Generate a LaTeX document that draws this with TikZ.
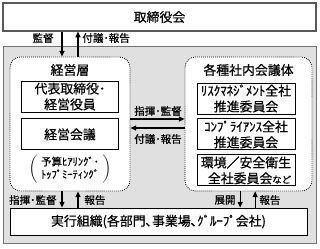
\documentclass[tikz,border=0pt]{standalone}
\usepackage{fontspec}
\setmainfont{Noto Sans CJK JP}[FakeBold=0.6, UprightFont=*, UprightFeatures={FakeBold=0.6}]
\usetikzlibrary{arrows.meta, positioning}
\tikzstyle{board}  = [rectangle, minimum width=9.39cm, minimum height=0.84cm,
                      text centered, draw=black!65, line width=1pt, fill=white, font=\fontsize{11}{12}\selectfont]
\tikzstyle{base}   = [rectangle, minimum width=9.39cm, minimum height=5.91cm,
                      draw=black!55, line width=0.6pt, fill=black!12]
\tikzstyle{group}  = [rectangle, rounded corners=9pt, minimum height=4.02cm,
                      draw=black, densely dotted, line width=0.7pt, fill=white]
\tikzstyle{unit}   = [rectangle, minimum width=2.9cm, minimum height=0.93cm, inner sep=1pt,
                      align=center, draw=black, line width=0.8pt, fill=white, font=\fontsize{11}{13.5}\selectfont]
\tikzstyle{head}   = [font=\fontsize{11}{12}\selectfont]
\tikzstyle{lbl}    = [font=\fontsize{9}{10}\selectfont, inner sep=1pt]
\tikzstyle{arrow}  = [-{Triangle[length=1.7mm, width=1.5mm]}, line width=0.9pt]

\begin{document}
\begin{tikzpicture}[x=0.03cm, y=-0.03cm]
    \useasboundingbox (0,0) rectangle (320,248);
    \node (base) [base] at (159.5,144.5) {};
    \node (top) [board] at (159.5,17) {取締役会};
    \node (mgmt) [group, minimum width=3.6cm] at (70,124) {};
    \node (meet) [group, minimum width=3.81cm] at (248.5,124) {};
    \node (mgmthead) [head] at (70,70) {経営層};
    \node (meethead) [head] at (248.5,70) {各種社内会議体};

    \node (ceo) [unit] at (70,96.5) {代表取締役･\\経営役員};
    \node (council) [unit, below=0.18cm of ceo] {経営会議};
    \node (hearing) [below=0.02cm of council, font=\fontsize{9}{10.5}\selectfont]
        {$\left(\hspace{3pt}\begin{tabular}{@{}c@{}}予算ﾋｱﾘﾝｸﾞ･\\ﾄｯﾌﾟﾐｰﾃｨﾝｸﾞ\end{tabular}\hspace{3pt}\right)$};

    \node (risk) [unit, minimum width=2.94cm] at (246,98.5) {ﾘｽｸﾏﾈｼﾞﾒﾝﾄ全社\\推進委員会};
    \node (comp) [unit, minimum width=2.94cm, below=0.12cm of risk] {ｺﾝﾌﾟﾗｲｱﾝｽ全社\\推進委員会};
    \node (env) [unit, minimum width=2.94cm, below=0.12cm of comp, align=right]
        {環境／安全衛生\\全社委員会{\fontsize{8}{9}\selectfont など}};

    \node (ops) [board, draw=black, line width=0.8pt, minimum width=8.91cm, minimum height=0.81cm] at (158.5,221.5)
        {実行組織(各部門､事業場､ｸﾞﾙｰﾌﾟ会社)};

    \draw[arrow] ([xshift=-0.24cm]mgmt.north |- top.south) -- ([xshift=-0.24cm]mgmt.north);
    \draw[arrow] ([xshift=0.24cm]mgmt.north) -- ([xshift=0.24cm]mgmt.north |- top.south);
    \draw[arrow] ([yshift=0.15cm]mgmt.east) -- ([yshift=0.15cm]meet.west);
    \draw[arrow] ([yshift=-0.12cm]meet.west) -- ([yshift=-0.12cm]mgmt.east);
    \draw[arrow] ([xshift=-0.24cm]mgmt.south) -- ([xshift=-0.24cm]mgmt.south |- ops.north);
    \draw[arrow] ([xshift=0.24cm]mgmt.south |- ops.north) -- ([xshift=0.24cm]mgmt.south);
    \draw[arrow] ([xshift=-0.25cm]meet.south) -- ([xshift=-0.25cm]meet.south |- ops.north);
    \draw[arrow] ([xshift=0.2cm]meet.south |- ops.north) -- ([xshift=0.2cm]meet.south);

    \node (l1) [lbl, anchor=east] at (55,38) {監督};
    \node (l2) [lbl, anchor=west] at (81,38) {付議･報告};
    \node (l3) [lbl] at (158,111) {指揮･監督};
    \node (l4) [lbl] at (158,139) {付議･報告};
    \node (l5) [lbl, anchor=east] at (58,200) {指揮･監督};
    \node (l6) [lbl, anchor=west] at (83,200) {報告};
    \node (l7) [lbl, anchor=east] at (237,200) {展開};
    \node (l8) [lbl, anchor=west] at (258,200) {報告};
\end{tikzpicture}
\end{document}
